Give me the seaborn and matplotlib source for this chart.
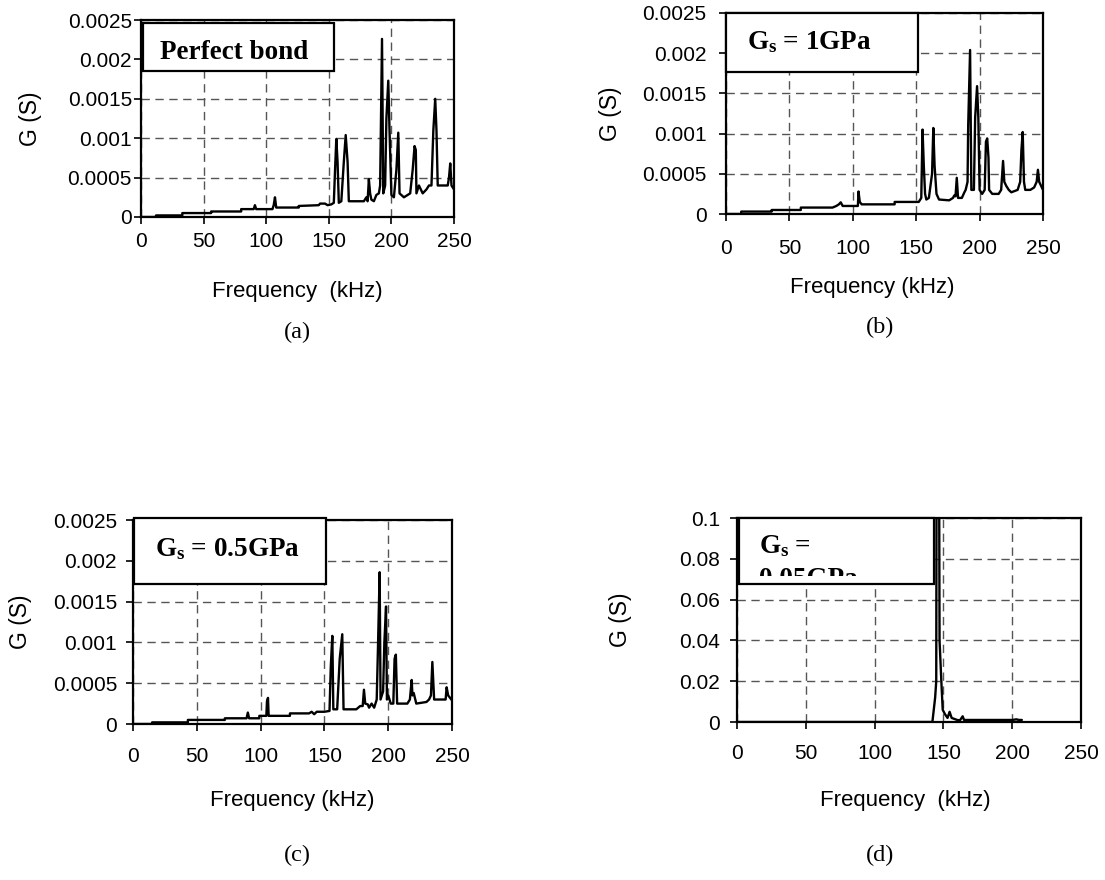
import numpy as np
import pandas as pd
import matplotlib
matplotlib.use("Agg")
import matplotlib.pyplot as plt
import seaborn as sns
from matplotlib.patches import Rectangle
from matplotlib.transforms import Bbox, TransformedBbox

# ---------------- data ----------------
freq_a = [0, 12, 12, 33, 33, 56, 56, 80, 80, 90, 91, 92, 105, 106, 107, 108, 126, 126, 142, 143, 147, 149,
          152, 154, 155, 156, 157, 158, 160, 162, 163.5, 165, 166, 178, 180, 181, 182, 183, 184, 186, 188,
          190, 191, 192.5, 193.5, 195, 196, 197.5, 198.5, 200, 202, 204, 205.5, 206.5, 210, 215, 217,
          218.5, 219.5, 220, 222, 225, 228, 230, 232, 233.5, 235, 236, 237, 240, 245, 246, 247, 248, 250]
g_a = [0, 0, 0.00002, 0.00002, 0.00005, 0.00005, 0.00007, 0.00007, 0.0001, 0.0001, 0.00015, 0.0001,
       0.0001, 0.00015, 0.00025, 0.00012, 0.00012, 0.00014, 0.00015, 0.00017, 0.00017, 0.00015,
       0.00016, 0.00018, 0.0006, 0.00099, 0.0007, 0.00018, 0.0002, 0.0007, 0.00104, 0.0007, 0.0002,
       0.0002, 0.00025, 0.0002, 0.00048, 0.0003, 0.00022, 0.0002, 0.00028, 0.0003, 0.0004, 0.00226,
       0.0003, 0.0004, 0.00125, 0.00173, 0.0011, 0.00028, 0.00025, 0.0006, 0.00107, 0.0003, 0.00025,
       0.0003, 0.0006, 0.0009, 0.00085, 0.0003, 0.0004, 0.0003, 0.00035, 0.0004, 0.0004, 0.0011,
       0.0015, 0.0011, 0.0004, 0.0004, 0.0004, 0.0005, 0.00068, 0.0004, 0.00035]

freq_b = [0, 12, 12, 36, 36, 59, 59, 84, 87, 89, 90.5, 92, 104, 104.5, 105.5, 107, 133, 133, 152, 154,
          155, 156, 157, 158, 160, 162.5, 163.5, 164.5, 166, 168, 176, 179, 180, 181, 182, 183, 186, 188,
          189, 190.5, 191, 192.5, 193.5, 195.5, 196.5, 198, 199, 200, 202, 204, 205, 206, 207, 207.5,
          210, 215, 217, 218.5, 219.5, 221, 223, 225, 230, 232, 233, 234, 235, 236, 240, 243, 245, 246,
          247, 250]
g_b = [0, 0, 0.00003, 0.00003, 0.00005, 0.00005, 0.00008, 0.00008, 0.0001, 0.00012, 0.000145, 0.0001,
       0.0001, 0.00028, 0.00015, 0.00012, 0.00012, 0.00015, 0.00015, 0.0002, 0.00105, 0.0006, 0.00025,
       0.00018, 0.0002, 0.0005, 0.00107, 0.0006, 0.00025, 0.00018, 0.00017, 0.0002, 0.00023, 0.00022,
       0.00045, 0.0002, 0.0002, 0.00027, 0.0003, 0.0004, 0.0011, 0.00204, 0.0003, 0.0003, 0.0012,
       0.00159, 0.0012, 0.0003, 0.00025, 0.0003, 0.0009, 0.00094, 0.0007, 0.0003, 0.00025, 0.00025,
       0.0003, 0.00066, 0.0004, 0.00035, 0.0003, 0.00027, 0.0003, 0.0004, 0.0008, 0.00102, 0.0004,
       0.0003, 0.0003, 0.00033, 0.0004, 0.00055, 0.0004, 0.0003]

freq_c = [0, 15, 15, 43, 43, 72, 72, 89, 90, 91, 99, 99, 104.5, 105, 105.8, 106.3, 123, 123, 138, 140,
          142, 144, 150, 154, 155, 156.2, 157, 160, 162, 164, 165, 175, 178, 180, 181, 182, 184, 185,
          187, 189, 191, 192, 193.3, 194, 196, 197, 198.3, 199, 200, 202, 204, 205, 206, 207, 210, 215,
          217, 218.4, 219, 220, 222, 230, 232, 233.5, 234.6, 236, 240, 243, 245, 245.8, 247, 250]
g_c = [0, 0, 0.00002, 0.00002, 0.00005, 0.00005, 0.00007, 0.00007, 0.00014, 0.00007, 0.00007, 0.0001,
       0.0001, 0.00028, 0.00032, 0.0001, 0.0001, 0.00013, 0.00013, 0.00015, 0.00012, 0.00015, 0.00015,
       0.00016, 0.0007, 0.00108, 0.00018, 0.00018, 0.0008, 0.0011, 0.00018, 0.00018, 0.00022, 0.00022,
       0.00042, 0.00025, 0.00024, 0.0002, 0.00025, 0.0002, 0.0003, 0.00095, 0.00186, 0.0003, 0.0004,
       0.001, 0.00144, 0.0003, 0.00035, 0.00025, 0.00025, 0.0008, 0.00085, 0.00025, 0.00025, 0.00025,
       0.0003, 0.00054, 0.00035, 0.00038, 0.00025, 0.00027, 0.0003, 0.00035, 0.00076, 0.0003, 0.0003,
       0.0003, 0.0003, 0.00045, 0.00035, 0.00029]

freq_d = [0, 142, 143, 144, 144.8, 145.1, 146.8, 147.2, 148.5, 149.5, 151, 153, 154.5, 156, 160, 162, 164,
          165, 200, 203, 205, 207]
g_d = [0, 0, 0.006, 0.012, 0.02, 0.15, 0.15, 0.04, 0.02, 0.006, 0.004, 0.002, 0.005, 0.002, 0.001,
       0.0008, 0.0028, 0.001, 0.001, 0.0013, 0.001, 0.001]

xticks = [0, 50, 100, 150, 200, 250]
xtick_labels = ["0", "50", "100", "150", "200", "250"]
yticks_small = [0, 0.0005, 0.001, 0.0015, 0.002, 0.0025]
ytick_labels_small = ["0", "0.0005", "0.001", "0.0015", "0.002", "0.0025"]
yticks_d = [0, 0.02, 0.04, 0.06, 0.08, 0.1]
ytick_labels_d = ["0", "0.02", "0.04", "0.06", "0.08", "0.1"]

panel_letters = ["(a)", "(b)", "(c)", "(d)"]
box_texts = ["Perfect bond", r"$G_s$ = 1GPa", r"$G_s$ = 0.5GPa", r"$G_s$ ="]
box_text_d2 = "0.05GPa"
xlabels = ["Frequency  (kHz)", "Frequency (kHz)", "Frequency (kHz)", "Frequency  (kHz)"]
ylabel = "G (S)"

# ---------------- style ----------------
sns.set_style("white")
plt.rcParams['font.family'] = ['Liberation Sans', 'DejaVu Sans']
plt.rcParams['text.color'] = 'black'
plt.rcParams['axes.labelcolor'] = 'black'
plt.rcParams['xtick.color'] = 'black'
plt.rcParams['ytick.color'] = 'black'
plt.rcParams['mathtext.fontset'] = 'custom'
plt.rcParams['mathtext.it'] = 'Liberation Serif:bold'
plt.rcParams['mathtext.rm'] = 'Liberation Serif:bold'
plt.rcParams['mathtext.bf'] = 'Liberation Serif:bold'

W, H = 1105, 880
fig = plt.figure(figsize=(W / 100, H / 100), dpi=100)
fig.patch.set_facecolor('white')


def fx(x):
    return x / W


def fy(y):
    return 1 - y / H


# layout in pixels
layout = [
    dict(ax=(141, 20, 454, 217), box=(143, 23, 334, 71), txt=(234.5, 59, 'center'),
         ylab=30, xlab=(297, 292), letter=(297, 332), xpad=6, ypad=1.5),
    dict(ax=(726, 13, 1043, 214), box=(726, 13, 918, 72), txt=(747, 49, 'left'),
         ylab=610, xlab=(872, 288), letter=(880, 327), xpad=13, ypad=9),
    dict(ax=(133, 520, 452, 724), box=(134, 518, 326, 584), txt=(155, 556, 'left'),
         ylab=21, xlab=(292, 800), letter=(297, 855), xpad=11.5, ypad=6.5),
    dict(ax=(737, 518, 1081, 722), box=(739, 518, 934, 584), txt=(759, 553, 'left'),
         ylab=620, xlab=(905, 800), letter=(880, 855), xpad=11, ypad=7),
]

series = [(freq_a, g_a), (freq_b, g_b), (freq_c, g_c), (freq_d, g_d)]

for i, (lay, (fq, gv)) in enumerate(zip(layout, series)):
    x0, y0, x1, y1 = lay['ax']
    ax = fig.add_axes([fx(x0), fy(y1), (x1 - x0) / W, (y1 - y0) / H])
    df = pd.DataFrame({"Frequency": fq, "G": gv})
    sns.lineplot(data=df, x="Frequency", y="G", ax=ax, color='black', lw=1.7,
                 sort=False, estimator=None, zorder=2)
    ax.set_xlim(0, 250)
    ax.set_xticks(xticks)
    ax.set_xticklabels(xtick_labels)
    if i < 3:
        ax.set_ylim(0, 0.0025)
        ax.set_yticks(yticks_small)
        ax.set_yticklabels(ytick_labels_small)
    else:
        ax.set_ylim(0, 0.1)
        ax.set_yticks(yticks_d)
        ax.set_yticklabels(ytick_labels_d)
    ax.grid(True, color='#555555', lw=1.0, ls=(0, (6, 4)))
    ax.set_axisbelow(True)
    for s in ax.spines.values():
        s.set_visible(True)
        s.set_color('black')
        s.set_linewidth(1.6)
        s.set_zorder(5)
    ax.tick_params(axis='x', direction='out', length=5, width=1.2, color='black', labelcolor='black',
                   labelsize=15, pad=lay['xpad'], bottom=True)
    ax.tick_params(axis='y', direction='out', length=5, width=1.2, color='black', labelcolor='black',
                   labelsize=15, pad=lay['ypad'], left=True)
    ax.set_xlabel(xlabels[i], fontsize=16, color='black')
    ax.set_ylabel(ylabel, fontsize=16.5, color='black')
    ax.xaxis.label.set_va('center')
    ax.yaxis.label.set_va('center')
    ax.xaxis.set_label_coords((lay['xlab'][0] - x0) / (x1 - x0), (y1 - lay['xlab'][1]) / (y1 - y0))
    ax.yaxis.set_label_coords((lay['ylab'] - x0) / (x1 - x0), 0.5)

    # label box
    bx0, by0, bx1, by1 = lay['box']
    rect = Rectangle((fx(bx0), fy(by1)), (bx1 - bx0) / W, (by1 - by0) / H, transform=fig.transFigure,
                     facecolor='white', edgecolor='black', lw=1.6, zorder=10)
    fig.add_artist(rect)
    tx, ty, ha = lay['txt']
    fig.text(fx(tx), fy(ty), box_texts[i], ha=ha, va='baseline', fontsize=19.5, color='black',
             family=['Liberation Serif'], weight='bold', zorder=11)
    if i == 3:
        t2 = fig.text(fx(tx), fy(586), box_text_d2, ha='left', va='baseline', fontsize=19.5,
                      color='black', family=['Liberation Serif'], weight='bold', zorder=11)
        clip = TransformedBbox(Bbox.from_extents(fx(bx0), fy(576), fx(bx1), fy(by0)), fig.transFigure)
        t2.set_clip_box(clip)
        t2.set_clip_on(True)

    # panel letter
    lx, ly = lay['letter']
    fig.text(fx(lx), fy(ly), panel_letters[i], ha='center', va='center', fontsize=17.5,
             color='black', family=['Liberation Serif'])

fig.savefig("out.png", dpi=100, facecolor='white')
